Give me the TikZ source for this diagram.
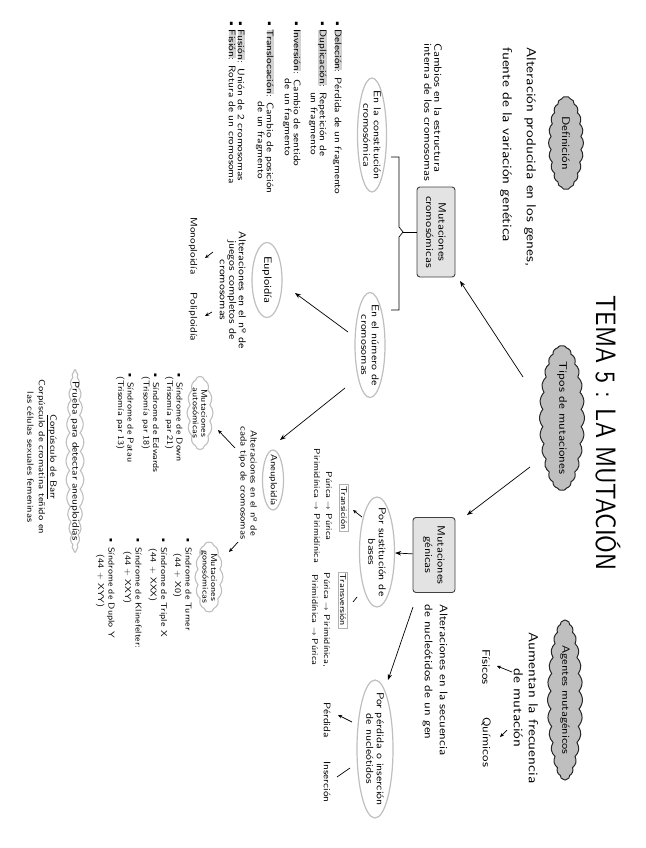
\documentclass[tikz,border=0pt]{standalone}
\usepackage{fontspec}
\setsansfont{lmsans10-regular.otf}[FakeStretch=1.18]
\usepackage{tikz}
\usetikzlibrary{shapes,arrows.meta,calc}

\tikzset{
  >={Stealth[length=6pt,width=4.5pt]},
  smallarrow/.style={-{Stealth[length=4pt,width=3.5pt]}},
  graycloud/.style={cloud, cloud ignores aspect, cloud puff arc=85, draw=black!85, fill=gray!50, line width=1pt, inner xsep=-25pt, inner ysep=0pt, font=\sffamily\fontsize{11}{11}\selectfont},
  lightcloud/.style={cloud, cloud ignores aspect, cloud puff arc=85, draw=gray!50, line width=1.1pt, fill=white, inner xsep=-10pt, inner ysep=0pt, align=center, font=\sffamily\fontsize{8.5}{8.5}\selectfont},
  oval/.style={ellipse, draw=gray!50, line width=1.2pt, fill=white, inner xsep=-12pt, inner ysep=-2pt, align=center, font=\sffamily\fontsize{10}{10.5}\selectfont},
  mutbox/.style={rectangle, rounded corners=3pt, draw=black!75, fill=gray!22, line width=0.9pt, align=center, inner sep=0pt, font=\sffamily\fontsize{10.5}{12.5}\selectfont},
  tagbox/.style={rectangle, draw=gray!60, line width=0.7pt, inner xsep=2pt, inner ysep=1.2pt, font=\sffamily\fontsize{8.5}{8.5}\selectfont},
  note/.style={align=center, inner sep=0pt, font=\sffamily\fontsize{10}{10}\selectfont},
  listtext/.style={align=left, inner sep=0pt, font=\sffamily\fontsize{9.5}{9}\selectfont},
  syndtext/.style={align=left, inner sep=0pt, font=\sffamily\fontsize{8.5}{9.5}\selectfont},
  link/.style={line width=0.7pt},
}
\newcommand{\hl}[1]{{\setlength{\fboxsep}{0.3pt}\colorbox{gray!35}{#1}}}

\begin{document}
\begin{tikzpicture}[x=1pt, y=-1pt, every node/.append style={rotate=-90}]
\useasboundingbox (0,0) rectangle (645,848);

% Title
\node[font=\sffamily\fontsize{28}{28}\selectfont] (title) at (608,433) {\scalebox{0.73}[1]{TEMA 5 : LA MUTACIÓN}};

% Definition
\node[graycloud, cloud puffs=22, minimum width=93pt, minimum height=35pt] (defin) at (566,143) {Definición};
\node[note, align=left, font=\sffamily\fontsize{13}{24}\selectfont] (deftext) at (518,157) {Alteración producida en los genes,\\fuente de la variación genética};

% Types and agents
\node[graycloud, cloud puffs=26, minimum width=145pt, minimum height=45pt] (tipos) at (562,418) {Tipos de mutaciones};
\node[graycloud, cloud puffs=28, minimum width=160pt, minimum height=35pt, font=\sffamily\fontsize{10.5}{10.5}\selectfont] (agentes) at (565,700) {Agentes mutagénicos};
\node[note, font=\sffamily\fontsize{13}{15}\selectfont] (agtext) at (526,708) {Aumentan la frecuencia\\de mutación};
\node[note, font=\sffamily\fontsize{11}{11}\selectfont] (fisicos) at (486,667) {Físicos};
\node[note, font=\sffamily\fontsize{11}{11}\selectfont] (quimicos) at (486,742) {Químicos};

% Chromosomal mutations
\node[mutbox, minimum width=90pt, minimum height=38pt] (cromo) at (436,232) {Mutaciones\\cromosómicas};
\node[note, align=left, font=\sffamily\fontsize{10.5}{10}\selectfont] (cromotext) at (433,112) {Cambios en la estructura\\interna de los cromosomas};
\draw[link] (391,157) -- (399,157) -- (399,227) -- (403,232) -- (399,237) -- (399,310) -- (391,310);
\draw[link] (403,232) -- (cromo.south);

\node[oval, minimum width=114pt, minimum height=29pt] (constit) at (372,135) {En la constitución\\cromosómica};
\node[listtext, anchor=north west] (cromolist) at (342,19) {%
\textbullet\,\hl{Deleción}: Pérdida de un fragmento\\[6pt]
\textbullet\,\hl{Duplicación}: Repetición de\\
\phantom{\textbullet\,Duplicación: }un fragmento\\[8pt]
\textbullet\,\hl{Inversión}: Cambio de sentido\\
\phantom{\textbullet\,Inversión: }de un fragmento\\[9pt]
\textbullet\,\hl{Translocación}: Cambio de posición\\
\phantom{\textbullet\,Translocación: }de un fragmento\\[11pt]
\textbullet\,\hl{Fusión}: Unión de 2 cromosomas\\
\textbullet\,\hl{Fisión}: Rotura de un cromosoma};

\node[oval, minimum width=105pt, minimum height=30pt] (numero) at (370,345) {En el número de\\cromosomas};

% Euploidy
\node[oval, minimum width=75pt, minimum height=30pt, font=\sffamily\fontsize{10.5}{10.5}\selectfont] (euplo) at (267,280) {Euploidía};
\node[note, font=\sffamily\fontsize{10}{9.5}\selectfont] (eutext) at (233,290) {Alteraciones en el nº de\\juegos completos de\\cromosomas};
\node[note, font=\sffamily\fontsize{9.5}{9.5}\selectfont] (mono) at (193,246) {Monoploidía};
\node[note, font=\sffamily\fontsize{9.5}{9.5}\selectfont] (poli) at (193,317) {Poliploidía};

% Aneuploidy
\node[oval, minimum width=60pt, minimum height=21pt, font=\sffamily\fontsize{9}{9}\selectfont] (aneu) at (273,480) {Aneuploidía};
\node[note, font=\sffamily\fontsize{9}{10}\selectfont] (anetext) at (248,483) {Alteraciones en el nº de\\cada tipo de cromosomas};

\node[lightcloud, cloud puffs=14, minimum width=73pt, minimum height=26pt] (autos) at (200,413) {Mutaciones\\autosómicas};
\node[syndtext, anchor=north west] (autolist) at (183,371) {%
\textbullet\ Síndrome de Down\\
\hspace*{0.6em}(Trisomía par 21)\\[4.5pt]
\textbullet\ Síndrome de Edwards\\
\hspace*{0.6em}(Trisomía par 18)\\[6.5pt]
\textbullet\ Síndrome de Patau\\
\hspace*{0.6em}(Trisomía par 13)};

\node[lightcloud, cloud puffs=14, minimum width=70pt, minimum height=28pt] (gonos) at (209,577) {Mutaciones\\gonosómicas};
\node[syndtext, anchor=north west, font=\sffamily\fontsize{8.5}{10.5}\selectfont] (gonolist) at (192,536) {%
\textbullet\ Síndrome de Turner\\
\hspace*{2em}(44 + X0)\\[3.5pt]
\textbullet\ Síndrome de Triple X\\
\hspace*{1.5em}(44 + XXX)\\[4.5pt]
\textbullet\ Síndrome de Klinefelter:\\
\hspace*{1.8em}(44 + XXY)\\[6pt]
\textbullet\ Síndrome de Duplo Y\\
\hspace*{2.2em}(44 + XYY)};

\node[lightcloud, cloud puffs=30, minimum width=182pt, minimum height=18pt, inner xsep=-28pt, font=\sffamily\fontsize{9.5}{9.5}\selectfont] (prueba) at (75,461) {Prueba para detectar aneuploidías};
\node[note, font=\sffamily\fontsize{9}{11.5}\selectfont] (barr) at (42,457) {\underline{Corpúsculo de Barr}\\Corpúsculo de cromatina teñido en\\las células sexuales femeninas};

% Gene mutations
\node[mutbox, minimum width=75pt, minimum height=42pt] (genicas) at (434,555) {Mutaciones\\génicas};
\node[note, align=left, font=\sffamily\fontsize{11}{15}\selectfont] (gentext) at (435,680) {Alteraciones en la secuencia\\de nucleótidos de un gen};

\node[oval, minimum width=110pt, minimum height=35pt] (sustit) at (377,552) {Por sustitución de\\bases};
\node[tagbox] (transic) at (344,508) {Transición};
\node[note, font=\sffamily\fontsize{8.5}{12}\selectfont] (transictext) at (323,506) {Púrica $\rightarrow$ Púrica\\Pirimidínica $\rightarrow$ Pirimidínica};
\node[tagbox] (transv) at (343,600) {Transversión};
\node[note, font=\sffamily\fontsize{8.5}{12}\selectfont] (transvtext) at (321,620) {Púrica $\rightarrow$ Pirimidínica,\\Pirimidínica $\rightarrow$ Púrica};

\node[oval, minimum width=138pt, minimum height=36pt] (perdida) at (375,749) {Por pérdida o inserción\\de nucleótidos};
\node[note, font=\sffamily\fontsize{9.5}{9.5}\selectfont] (perdtext) at (327,720) {Pérdida};
\node[note, font=\sffamily\fontsize{9.5}{9.5}\selectfont] (instext) at (327,782) {Inserción};

% Connectors
\draw[->, link] ($(tipos)+(-39,-41)$) -- ($(cromo)+(24,49)$);
\draw[->, link] ($(tipos)+(-32,49)$) -- ($(genicas)+(33,-40)$);
\draw[->, link] (genicas) -- (sustit);
\draw[->, link] ($(genicas)+(-21,52)$) -- ($(perdida)+(13,-69)$);
\draw[->, link] ($(numero)+(-22,-13)$) -- ($(euplo)+(28,13)$);
\draw[->, link] ($(numero)+(-25,43)$) -- ($(aneu)+(7,-40)$);
\draw[smallarrow, link] ($(anetext)+(-13,-35)$) -- ($(autos)+(18,17)$);
\draw[smallarrow, link] ($(anetext)+(-10,59)$) -- ($(gonos)+(20,-25)$);
\draw[smallarrow, link] ($(sustit)+(-15,-35)$) -- ($(transic)+(9,2)$);
\draw[link] ($(sustit)+(-20,45)$) -- ($(transv)+(10,2)$);
\draw[smallarrow, link] ($(perdida)+(-23,-27)$) -- ($(perdtext)+(11,-5)$);
\draw[link] ($(perdida)+(-25,19)$) -- ($(instext)+(10,-5)$);
\draw[smallarrow, link] ($(agtext)+(-14,-36)$) -- ($(fisicos)+(11,-1)$);
\draw[smallarrow, link] ($(agtext)+(-19,22)$) -- ($(quimicos)+(14,-5)$);
\draw[smallarrow, link] ($(eutext)+(-20,-38)$) -- ($(mono)+(12,12)$);
\draw[smallarrow, link] ($(eutext)+(-21,22)$) -- ($(poli)+(12,-1)$);
\end{tikzpicture}
\end{document}
